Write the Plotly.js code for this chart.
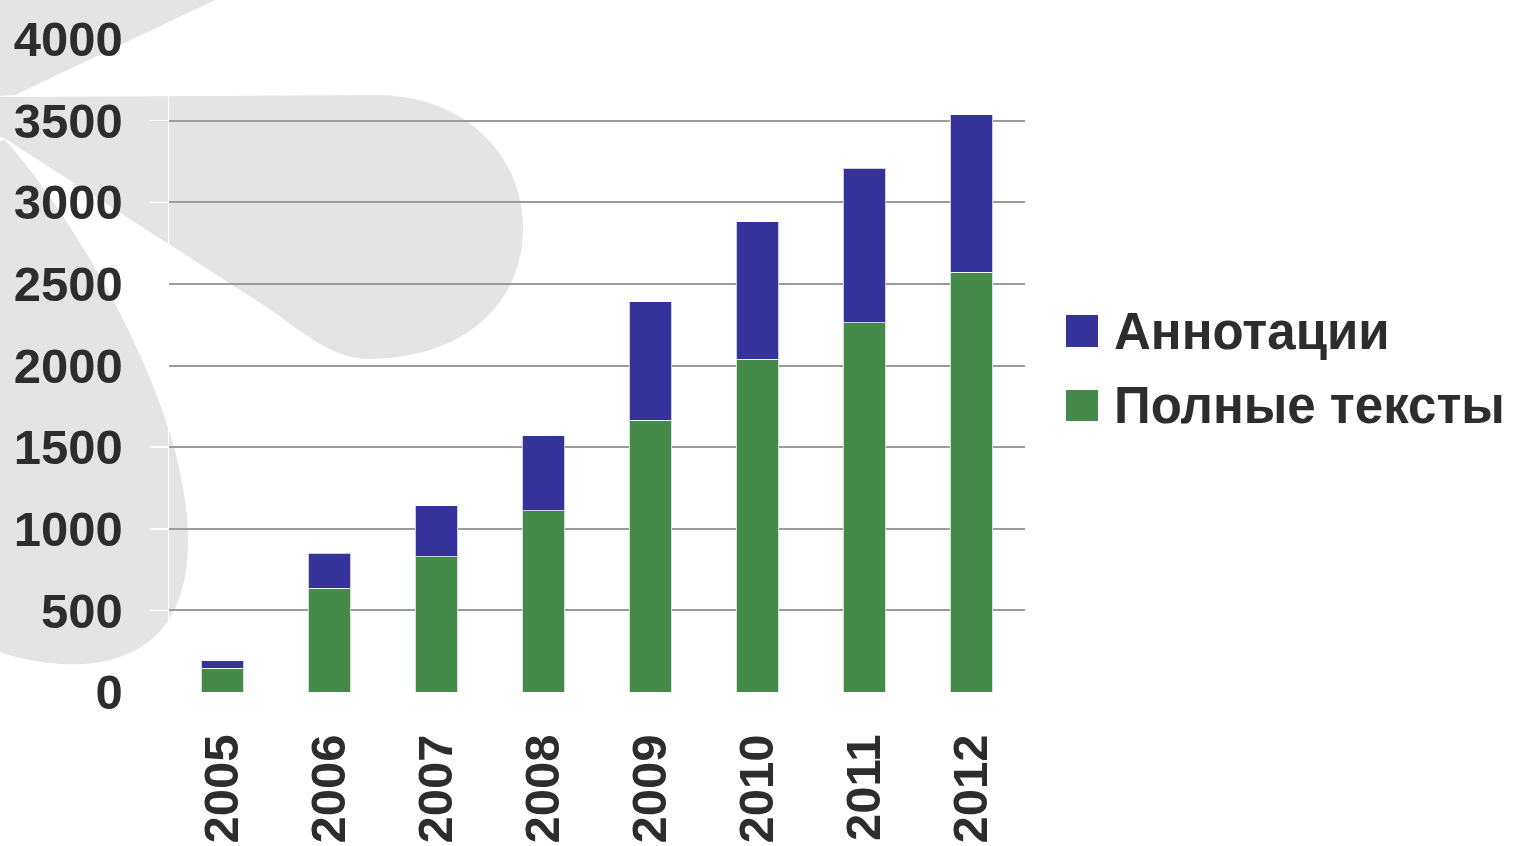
<!DOCTYPE html>
<html>
<head>
<meta charset="utf-8">
<script src="https://cdn.plot.ly/plotly-3.0.1.min.js"></script>
<style>
  html, body { margin: 0; padding: 0; background: #ffffff; }
  #chart { width: 1513px; height: 846px; }
</style>
</head>
<body>
<div id="chart"></div>
<script>
// ---- data ----
const years = ['2005', '2006', '2007', '2008', '2009', '2010', '2011', '2012'];
const fullTexts = [145, 635, 829, 1110, 1666, 2037, 2261, 2572];   // Полные тексты
const abstracts = [45, 214, 312, 460, 726, 845, 948, 965];         // Аннотации
const seriesNames = ['Аннотации', 'Полные тексты'];
const yTicks = [0, 500, 1000, 1500, 2000, 2500, 3000, 3500, 4000];

// ---- style ----
const blue = '#35339a';
const green = '#468a4a';
const textColor = '#2d2d2d';
const fontFamily = '"Liberation Sans", Arial, sans-serif';

const W = 1513, Hh = 846;
const m = { l: 169, r: 488, t: 39, b: 154 };
const pw = W - m.l - m.r, ph = Hh - m.t - m.b;
const PX = px => (px - m.l) / pw;
const PY = py => (Hh - m.b - py) / ph;

// decorative grey watermark (background), in page pixels
const svg = `<svg xmlns="http://www.w3.org/2000/svg" width="${W}" height="${Hh}" viewBox="0 0 ${W} ${Hh}">
<g fill="#e4e4e4">
<path d="M0,0 L215,0 L15,95 L0,96 Z"/>
<path d="M0,97 L380,95 C470,97 525,160 523,232 C521,300 470,358 368,359 C330,358 300,330 268,308 L4,138 L0,137 Z"/>
<path d="M0,142 L4,139 C60,200 140,330 172,440 C195,520 197,600 153,638 C120,668 60,672 0,652 Z"/>
</g></svg>`;
const svgUri = 'data:image/svg+xml;charset=utf-8,' + encodeURIComponent(svg);

const traces = [
  {
    type: 'bar', name: seriesNames[1], x: years, y: fullTexts,
    marker: { color: green, line: { color: 'rgba(255,255,255,0.75)', width: 1 } },
    hoverinfo: 'x+y+name'
  },
  {
    type: 'bar', name: seriesNames[0], x: years, y: abstracts,
    marker: { color: blue, line: { color: 'rgba(255,255,255,0.75)', width: 1 } },
    hoverinfo: 'x+y+name'
  }
];

const layout = {
  width: W, height: Hh,
  margin: m,
  paper_bgcolor: '#ffffff',
  plot_bgcolor: 'rgba(0,0,0,0)',
  barmode: 'stack',
  bargap: 0.6,
  showlegend: false,
  font: { family: fontFamily, color: textColor, size: 49, weight: 700 },
  xaxis: {
    type: 'category',
    tickangle: -90,
    ticks: '',
    showgrid: false,
    zeroline: false,
    showline: true,
    mirror: true,
    linecolor: '#ffffff',
    linewidth: 1,
    ticklabelstandoff: 22,
    tickfont: { family: fontFamily, size: 49, color: textColor, weight: 700 }
  },
  yaxis: {
    range: [0, 4000],
    tickmode: 'array',
    tickvals: yTicks,
    ticktext: yTicks.map(String),
    showgrid: true,
    gridcolor: '#9c9c9c',
    gridwidth: 2,
    zeroline: false,
    showline: true,
    linecolor: '#ffffff',
    linewidth: 1.5,
    ticks: 'outside',
    ticklen: 18,
    tickwidth: 1.5,
    tickcolor: '#ffffff',
    ticklabelstandoff: 17,
    tickfont: { family: fontFamily, size: 49, color: textColor, weight: 700 }
  },
  images: [{
    source: svgUri, xref: 'paper', yref: 'paper',
    x: PX(0), y: PY(0), sizex: W / pw, sizey: Hh / ph,
    xanchor: 'left', yanchor: 'top', sizing: 'stretch', layer: 'below'
  }],
  shapes: [
    { type: 'rect', xref: 'paper', yref: 'paper', x0: PX(1066), x1: PX(1098), y0: PY(347), y1: PY(315),
      fillcolor: blue, line: { width: 0 } },
    { type: 'rect', xref: 'paper', yref: 'paper', x0: PX(1066), x1: PX(1098), y0: PY(421), y1: PY(390),
      fillcolor: green, line: { width: 0 } }
  ],
  annotations: [
    { xref: 'paper', yref: 'paper', x: PX(1112), y: PY(331), xanchor: 'left', yanchor: 'middle',
      text: seriesNames[0], showarrow: false,
      font: { family: fontFamily, size: 51, color: textColor, weight: 700 } },
    { xref: 'paper', yref: 'paper', x: PX(1112), y: PY(405), xanchor: 'left', yanchor: 'middle',
      text: seriesNames[1], showarrow: false,
      font: { family: fontFamily, size: 51, color: textColor, weight: 700 } }
  ]
};

Plotly.newPlot('chart', traces, layout, { displayModeBar: false, staticPlot: true });
</script>
</body>
</html>
